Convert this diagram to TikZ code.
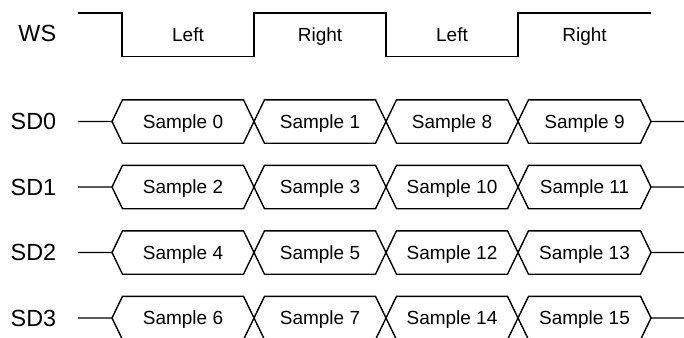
\documentclass[tikz,border=0pt]{standalone}
\usepackage{fontspec}
\setmainfont{Liberation Sans}
\tikzset{
    wire/.style={black, line width=0.8pt, line join=miter},
    siglabel/.style={anchor=east, inner sep=0pt, text height=9.5pt, text depth=0pt, font=\fontsize{13.3}{16}\selectfont},
    slottext/.style={inner sep=0pt, text height=7.8pt, text depth=0pt, font=\fontsize{10.8}{13}\selectfont},
}
\begin{document}
\begin{tikzpicture}
        \useasboundingbox (0, 0) rectangle (13.68, 6.74);
        \clip (0, 0) rectangle (13.68, 6.74);

        % Draw word select
        \draw[wire] (1.56, 6.48) -- (2.44, 6.48) -- (2.44, 5.61) -- (5.08, 5.61) -- (5.08, 6.48) -- (7.72, 6.48) -- (7.72, 5.61) -- (10.36, 5.61) -- (10.36, 6.48) -- (13.02, 6.48);

        % Draw data lines
        \draw[wire, shift={(0, 4.31)}] (1.56, 0) -- (2.24, 0) -- (2.45, 0.434) -- (4.87, 0.434) -- (5.29, -0.434) -- (7.51, -0.434) -- (7.93, 0.434) -- (10.15, 0.434) -- (10.57, -0.434) -- (12.81, -0.434) -- (13.02, 0) -- (13.68, 0);
        \draw[wire, shift={(0, 4.31)}] (2.24, 0) -- (2.45, -0.434) -- (4.87, -0.434) -- (5.29, 0.434) -- (7.51, 0.434) -- (7.93, -0.434) -- (10.15, -0.434) -- (10.57, 0.434) -- (12.81, 0.434) -- (13.02, 0);
        \draw[wire, shift={(0, 3.0)}] (1.56, 0) -- (2.24, 0) -- (2.45, 0.434) -- (4.87, 0.434) -- (5.29, -0.434) -- (7.51, -0.434) -- (7.93, 0.434) -- (10.15, 0.434) -- (10.57, -0.434) -- (12.81, -0.434) -- (13.02, 0) -- (13.68, 0);
        \draw[wire, shift={(0, 3.0)}] (2.24, 0) -- (2.45, -0.434) -- (4.87, -0.434) -- (5.29, 0.434) -- (7.51, 0.434) -- (7.93, -0.434) -- (10.15, -0.434) -- (10.57, 0.434) -- (12.81, 0.434) -- (13.02, 0);
        \draw[wire, shift={(0, 1.69)}] (1.56, 0) -- (2.24, 0) -- (2.45, 0.434) -- (4.87, 0.434) -- (5.29, -0.434) -- (7.51, -0.434) -- (7.93, 0.434) -- (10.15, 0.434) -- (10.57, -0.434) -- (12.81, -0.434) -- (13.02, 0) -- (13.68, 0);
        \draw[wire, shift={(0, 1.69)}] (2.24, 0) -- (2.45, -0.434) -- (4.87, -0.434) -- (5.29, 0.434) -- (7.51, 0.434) -- (7.93, -0.434) -- (10.15, -0.434) -- (10.57, 0.434) -- (12.81, 0.434) -- (13.02, 0);
        \draw[wire, shift={(0, 0.38)}] (1.56, 0) -- (2.24, 0) -- (2.45, 0.434) -- (4.87, 0.434) -- (5.29, -0.434) -- (7.51, -0.434) -- (7.93, 0.434) -- (10.15, 0.434) -- (10.57, -0.434) -- (12.81, -0.434) -- (13.02, 0) -- (13.68, 0);
        \draw[wire, shift={(0, 0.38)}] (2.24, 0) -- (2.45, -0.434) -- (4.87, -0.434) -- (5.29, 0.434) -- (7.51, 0.434) -- (7.93, -0.434) -- (10.15, -0.434) -- (10.57, 0.434) -- (12.81, 0.434) -- (13.02, 0);

        % Signal names
        \node[siglabel] (ws) at (1.13, 6.07) {WS};
        \node[siglabel] (sd0) at (1.13, 4.31) {SD0};
        \node[siglabel] (sd1) at (1.13, 3.0) {SD1};
        \node[siglabel] (sd2) at (1.13, 1.69) {SD2};
        \node[siglabel] (sd3) at (1.13, 0.38) {SD3};

        % Channel texts
        \node[slottext] (ws0) at (3.76, 6.04) {Left};
        \node[slottext] (ws1) at (6.4, 6.04) {Right};
        \node[slottext] (ws2) at (9.04, 6.04) {Left};
        \node[slottext] (ws3) at (11.69, 6.04) {Right};

        % Sample texts
        \node[slottext] (smp0) at (3.66, 4.31) {Sample 0};
        \node[slottext] (smp1) at (6.4, 4.31) {Sample 1};
        \node[slottext] (smp8) at (9.04, 4.31) {Sample 8};
        \node[slottext] (smp9) at (11.69, 4.31) {Sample 9};
        \node[slottext] (smp2) at (3.66, 3.0) {Sample 2};
        \node[slottext] (smp3) at (6.4, 3.0) {Sample 3};
        \node[slottext] (smp10) at (9.04, 3.0) {Sample 10};
        \node[slottext] (smp11) at (11.69, 3.0) {Sample 11};
        \node[slottext] (smp4) at (3.66, 1.69) {Sample 4};
        \node[slottext] (smp5) at (6.4, 1.69) {Sample 5};
        \node[slottext] (smp12) at (9.04, 1.69) {Sample 12};
        \node[slottext] (smp13) at (11.69, 1.69) {Sample 13};
        \node[slottext] (smp6) at (3.66, 0.38) {Sample 6};
        \node[slottext] (smp7) at (6.4, 0.38) {Sample 7};
        \node[slottext] (smp14) at (9.04, 0.38) {Sample 14};
        \node[slottext] (smp15) at (11.69, 0.38) {Sample 15};
\end{tikzpicture}
\end{document}
